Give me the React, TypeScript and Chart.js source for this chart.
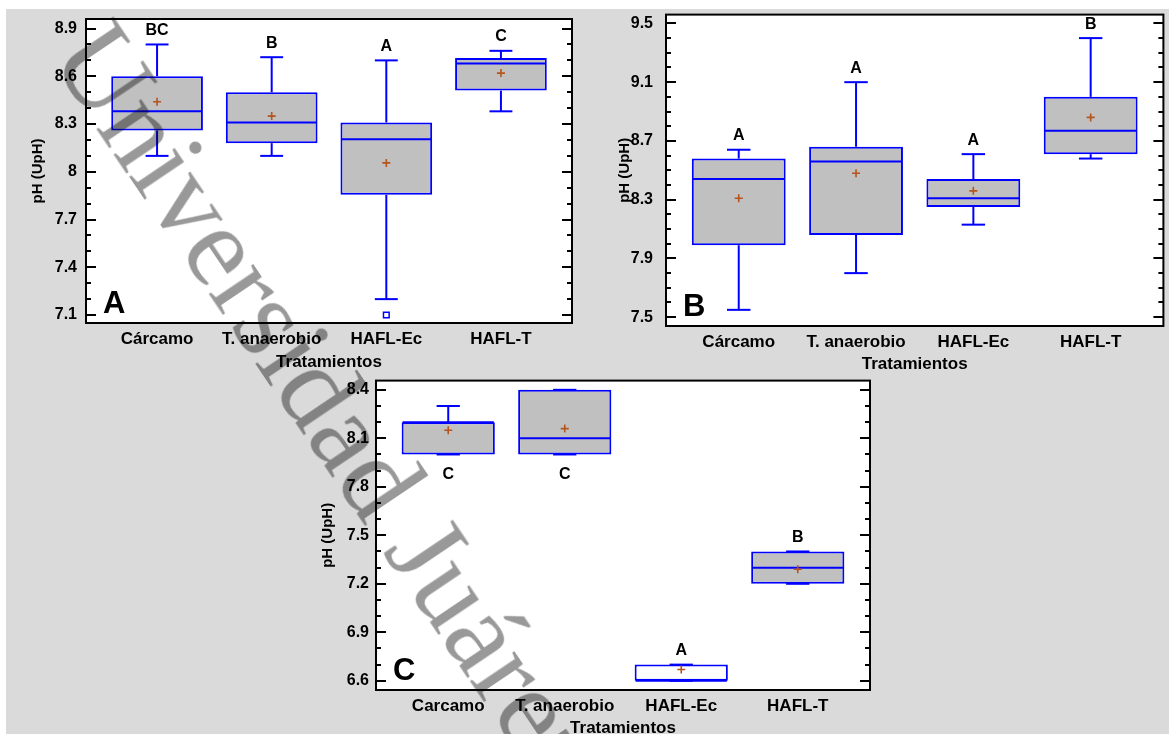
import React, { useEffect, useRef } from 'react';
import { Chart, registerables } from 'chart.js';

Chart.register(...registerables);

// ---------------- DATA ----------------
const CATEGORIES_AB = ['Cárcamo', 'T. anaerobio', 'HAFL-Ec', 'HAFL-T'];
const CATEGORIES_C = ['Carcamo', 'T. anaerobio', 'HAFL-Ec', 'HAFL-T'];

// Panel A
const A_MIN = [8.1, 8.1, 7.2, 8.38];
const A_Q1 = [8.26, 8.18, 7.855, 8.51];
const A_MEDIAN = [8.38, 8.31, 8.205, 8.68];
const A_Q3 = [8.6, 8.5, 8.31, 8.715];
const A_MAX = [8.8, 8.72, 8.7, 8.76];
const A_MEAN = [8.44, 8.35, 8.056, 8.62];
const A_OUTLIERS = [[], [], [7.1], []];
const A_LETTERS = ['BC', 'B', 'A', 'C'];
const A_LETTER_SIDE = ['above', 'above', 'above', 'above'];
const A_TICKS = [7.1, 7.4, 7.7, 8, 8.3, 8.6, 8.9];
const A_RANGE = [7.05, 8.96];

// Panel B
const B_MIN = [7.55, 7.8, 8.13, 8.58];
const B_Q1 = [7.99, 8.06, 8.25, 8.61];
const B_MEDIAN = [8.44, 8.56, 8.31, 8.77];
const B_Q3 = [8.58, 8.66, 8.44, 9.0];
const B_MAX = [8.64, 9.1, 8.61, 9.4];
const B_MEAN = [8.31, 8.48, 8.36, 8.86];
const B_OUTLIERS = [[], [], [], []];
const B_LETTERS = ['A', 'A', 'A', 'B'];
const B_LETTER_SIDE = ['above', 'above', 'above', 'above'];
const B_TICKS = [7.5, 7.9, 8.3, 8.7, 9.1, 9.5];
const B_RANGE = [7.44, 9.56];

// Panel C
const C_MIN = [8.0, 8.0, 6.6, 7.2];
const C_Q1 = [8.0, 8.0, 6.6, 7.2];
const C_MEDIAN = [8.2, 8.1, 6.6, 7.3];
const C_Q3 = [8.2, 8.4, 6.7, 7.4];
const C_MAX = [8.3, 8.4, 6.7, 7.4];
const C_MEAN = [8.15, 8.16, 6.67, 7.29];
const C_OUTLIERS = [[], [], [], []];
const C_LETTERS = ['C', 'C', 'A', 'B'];
const C_LETTER_SIDE = ['below', 'below', 'above', 'above'];
const C_TICKS = [6.6, 6.9, 7.2, 7.5, 7.8, 8.1, 8.4];
const C_RANGE = [6.543, 8.457];

const MINOR_STEP = 0.1;
const X_TITLE = 'Tratamientos';
const Y_TITLE = 'pH (UpH)';
const WATERMARK = 'Universidad Juárez Autónoma de Tabasco';

// ---------------- STYLE ----------------
const FONT = "'Liberation Sans', Arial, Helvetica, sans-serif";
const BLUE = '#0000ff';
const BOX_FILL = '#c0c0c0';
const MEAN_COLOR = '#b5541c';
const BG = '#dadada';

type Panel = {
  tag: string;
  categories: string[];
  min: number[]; q1: number[]; median: number[]; q3: number[]; max: number[];
  mean: number[]; outliers: number[][]; letters: string[]; letterSide: string[];
  ticks: number[]; range: number[];
  fills: string[];
  box: { left: number; top: number; width: number; height: number };
  padding: { top: number; right: number; left: number; bottom: number };
  yAxisWidth: number; xAxisHeight: number; yTitlePad: number; xTitlePad: number; yTickPad: number;
};

const PANELS: Panel[] = [
  {
    tag: 'A', categories: CATEGORIES_AB,
    min: A_MIN, q1: A_Q1, median: A_MEDIAN, q3: A_Q3, max: A_MAX, mean: A_MEAN,
    outliers: A_OUTLIERS, letters: A_LETTERS, letterSide: A_LETTER_SIDE, ticks: A_TICKS, range: A_RANGE,
    fills: [BOX_FILL, BOX_FILL, BOX_FILL, BOX_FILL],
    box: { left: 6, top: 9, width: 574, height: 371 },
    padding: { top: 10, right: 8, left: 0, bottom: 0 },
    yAxisWidth: 80, xAxisHeight: 57, yTitlePad: 23, xTitlePad: 7, yTickPad: 9,
  },
  {
    tag: 'B', categories: CATEGORIES_AB,
    min: B_MIN, q1: B_Q1, median: B_MEDIAN, q3: B_Q3, max: B_MAX, mean: B_MEAN,
    outliers: B_OUTLIERS, letters: B_LETTERS, letterSide: B_LETTER_SIDE, ticks: B_TICKS, range: B_RANGE,
    fills: [BOX_FILL, BOX_FILL, BOX_FILL, BOX_FILL],
    box: { left: 580, top: 9, width: 589, height: 371 },
    padding: { top: 5, right: 5, left: 0, bottom: 0 },
    yAxisWidth: 86, xAxisHeight: 54, yTitlePad: 36, xTitlePad: 5, yTickPad: 13,
  },
  {
    tag: 'C', categories: CATEGORIES_C,
    min: C_MIN, q1: C_Q1, median: C_MEDIAN, q3: C_Q3, max: C_MAX, mean: C_MEAN,
    outliers: C_OUTLIERS, letters: C_LETTERS, letterSide: C_LETTER_SIDE, ticks: C_TICKS, range: C_RANGE,
    fills: [BOX_FILL, BOX_FILL, '#ffffff', BOX_FILL],
    box: { left: 290, top: 375, width: 590, height: 370 },
    padding: { top: 5, right: 10, left: 0, bottom: 0 },
    yAxisWidth: 86, xAxisHeight: 55, yTitlePad: 29, xTitlePad: 6.5, yTickPad: 7,
  },
];

function makePlugin(p: Panel) {
  return {
    id: 'boxplot-' + p.tag,
    beforeDraw(chart: any) {
      const { ctx, chartArea: a } = chart;
      ctx.save();
      ctx.fillStyle = '#ffffff';
      ctx.fillRect(a.left, a.top, a.right - a.left, a.bottom - a.top);
      ctx.restore();
    },
    afterDatasetDraw(chart: any, args: any) {
      if (args.index !== 0) return;
      const { ctx } = chart;
      const xs = chart.scales.x;
      const ys = chart.scales.y;
      ctx.save();
      ctx.strokeStyle = BLUE;
      ctx.lineWidth = 2;
      const line = (x1: number, y1: number, x2: number, y2: number) => {
        ctx.beginPath();
        ctx.moveTo(x1, y1);
        ctx.lineTo(x2, y2);
        ctx.stroke();
      };
      p.categories.forEach((_, i) => {
        const cx = xs.getPixelForValue(i);
        const cl = xs.getPixelForValue(i - 0.1);
        const cr = xs.getPixelForValue(i + 0.1);
        const bl = xs.getPixelForValue(i - 0.4) + 1;
        const br = xs.getPixelForValue(i + 0.4) - 1;
        const yMin = ys.getPixelForValue(p.min[i]);
        const yQ1 = ys.getPixelForValue(p.q1[i]);
        const yMed = ys.getPixelForValue(p.median[i]);
        const yQ3 = ys.getPixelForValue(p.q3[i]);
        const yMax = ys.getPixelForValue(p.max[i]);
        if (yMax < yQ3) line(cx, yQ3, cx, yMax);
        line(cl, yMax, cr, yMax);
        if (yMin > yQ1) line(cx, yQ1, cx, yMin);
        line(cl, yMin, cr, yMin);
        line(bl, yMed, br, yMed);
      });
      ctx.restore();
    },
    afterDraw(chart: any) {
      const { ctx, chartArea: a } = chart;
      const xs = chart.scales.x;
      const ys = chart.scales.y;
      ctx.save();
      ctx.strokeStyle = '#000';
      ctx.lineWidth = 2;
      const lo = Math.ceil(p.range[0] / MINOR_STEP - 1e-6);
      const hi = Math.floor(p.range[1] / MINOR_STEP + 1e-6);
      for (let k = lo; k <= hi; k++) {
        const v = k * MINOR_STEP;
        const major = p.ticks.some((t) => Math.abs(t - v) < 1e-6);
        const len = major ? 10 : 5;
        const yy = Math.round(ys.getPixelForValue(v));
        ctx.beginPath();
        ctx.moveTo(a.left, yy);
        ctx.lineTo(a.left + len, yy);
        ctx.moveTo(a.right, yy);
        ctx.lineTo(a.right - len, yy);
        ctx.stroke();
      }
      ctx.strokeRect(a.left, a.top, a.right - a.left, a.bottom - a.top);
      ctx.fillStyle = '#000';
      ctx.font = `bold 16px ${FONT}`;
      ctx.textAlign = 'center';
      ctx.textBaseline = 'middle';
      p.letters.forEach((l, i) => {
        const cx = xs.getPixelForValue(i);
        const yy = p.letterSide[i] === 'above'
          ? ys.getPixelForValue(p.max[i]) - 14
          : ys.getPixelForValue(p.min[i]) + 20;
        ctx.fillText(l, cx, yy);
      });
      ctx.font = `bold 31px ${FONT}`;
      ctx.textAlign = 'left';
      ctx.textBaseline = 'alphabetic';
      ctx.fillText(p.tag, a.left + 17, a.bottom - 10);
      ctx.restore();
    },
  };
}

function makeConfig(p: Panel): any {
  const tickFont = { family: FONT, size: 16, weight: 'bold' as const };
  const catFont = { family: FONT, size: 17, weight: 'bold' as const };
  const outlierPts: { x: number; y: number }[] = [];
  p.outliers.forEach((arr, i) => arr.forEach((v) => outlierPts.push({ x: i, y: v })));
  return {
    type: 'bar',
    data: {
      datasets: [
        {
          type: 'bar',
          data: p.q1.map((q, i) => ({ x: i, y: [q, p.q3[i]] })),
          backgroundColor: p.fills,
          borderColor: BLUE,
          borderWidth: 2,
          borderSkipped: false,
          categoryPercentage: 1,
          barPercentage: 0.8,
          order: 3,
        },
        {
          type: 'scatter',
          data: p.mean.map((m, i) => ({ x: i, y: m })),
          pointStyle: 'cross',
          pointRadius: 4,
          borderColor: MEAN_COLOR,
          pointBorderColor: MEAN_COLOR,
          pointBorderWidth: 1.6,
          order: 2,
        },
        {
          type: 'scatter',
          data: outlierPts,
          pointStyle: 'rect',
          pointRadius: 4,
          borderColor: BLUE,
          pointBorderColor: BLUE,
          pointBackgroundColor: '#ffffff',
          pointBorderWidth: 1.5,
          order: 1,
        },
      ],
    },
    options: {
      animation: false,
      responsive: false,
      events: [],
      layout: { padding: p.padding },
      plugins: { legend: { display: false }, tooltip: { enabled: false } },
      scales: {
        x: {
          type: 'linear',
          offset: false,
          min: -0.62,
          max: 3.62,
          grid: { display: false, drawTicks: false },
          border: { display: false },
          afterBuildTicks: (s: any) => {
            s.ticks = p.categories.map((_, i) => ({ value: i }));
          },
          afterFit: (s: any) => {
            s.height = p.xAxisHeight;
            s.paddingLeft = 0;
            s.paddingRight = 0;
            s.paddingTop = 0;
            s.paddingBottom = 0;
          },
          ticks: {
            autoSkip: false,
            maxRotation: 0,
            minRotation: 0,
            padding: 6,
            color: '#000',
            font: catFont,
            callback: (v: any) => p.categories[v],
          },
          title: {
            display: true,
            text: X_TITLE,
            color: '#000',
            font: catFont,
            padding: { top: 0, bottom: p.xTitlePad },
          },
        },
        y: {
          type: 'linear',
          min: p.range[0],
          max: p.range[1],
          grid: { display: false, drawTicks: false },
          border: { display: false },
          afterBuildTicks: (s: any) => {
            s.ticks = p.ticks.map((v) => ({ value: v }));
          },
          afterFit: (s: any) => {
            s.width = p.yAxisWidth;
            s.paddingTop = 0;
            s.paddingBottom = 0;
            s.paddingLeft = 0;
            s.paddingRight = 0;
          },
          ticks: {
            padding: p.yTickPad,
            color: '#000',
            font: tickFont,
            callback: (v: any) => String(v),
          },
          title: {
            display: true,
            text: Y_TITLE,
            color: '#000',
            font: { family: FONT, size: 15, weight: 'bold' },
            padding: { top: p.yTitlePad, bottom: 0 },
          },
        },
      },
    },
    plugins: [makePlugin(p)],
  };
}

function BoxPanel({ p }: { p: Panel }) {
  const ref = useRef<HTMLCanvasElement>(null);
  useEffect(() => {
    const chart = new Chart(ref.current as HTMLCanvasElement, makeConfig(p));
    return () => chart.destroy();
  }, [p]);
  return (
    <canvas
      ref={ref}
      width={p.box.width}
      height={p.box.height}
      style={{
        position: 'absolute',
        left: p.box.left,
        top: p.box.top,
        width: p.box.width,
        height: p.box.height,
      }}
    />
  );
}

export default function App() {
  return (
    <div
      style={{
        position: 'absolute',
        left: 0,
        top: 0,
        width: 1169,
        height: 734,
        overflow: 'hidden',
        background: '#ffffff',
      }}
    >
      <div style={{ position: 'absolute', left: 6, top: 9, right: 0, bottom: 0, background: BG }} />
      {PANELS.map((p) => (
        <BoxPanel key={p.tag} p={p} />
      ))}
      <div
        style={{
          position: 'absolute',
          left: 129,
          top: 3,
          transformOrigin: '0 0',
          transform: 'rotate(56deg)',
          fontFamily: "'Liberation Serif', 'Times New Roman', serif",
          fontSize: 116,
          lineHeight: 1,
          whiteSpace: 'nowrap',
          color: 'rgba(0,0,0,0.4)',
          pointerEvents: 'none',
        }}
      >
        {WATERMARK}
      </div>
    </div>
  );
}
